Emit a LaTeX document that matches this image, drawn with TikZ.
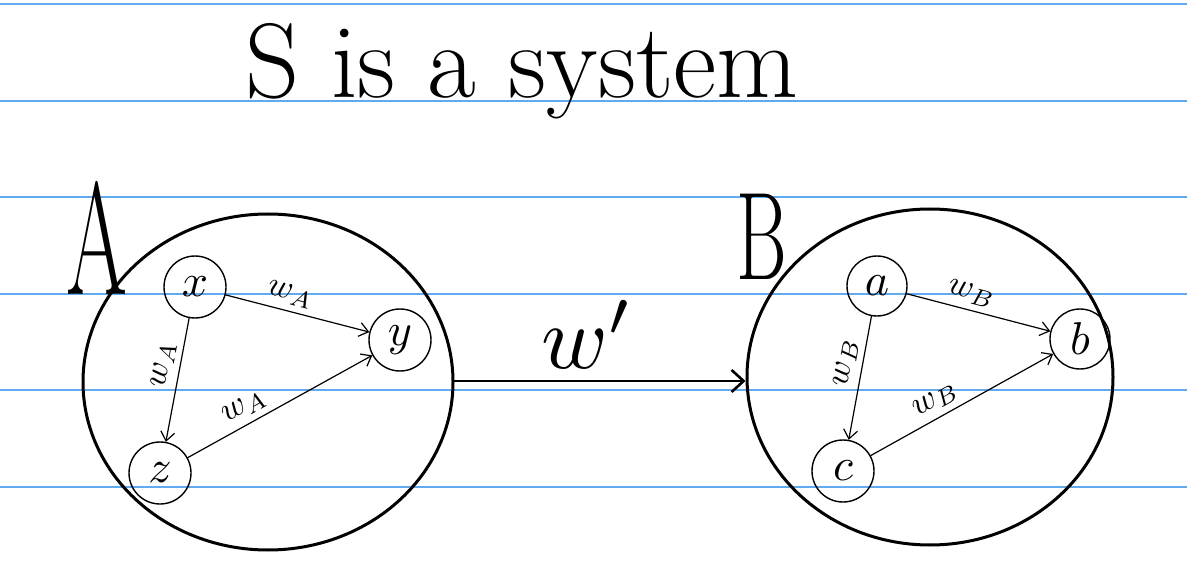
\documentclass[tikz,border=0pt]{standalone}
\usetikzlibrary{shapes.geometric,arrows.meta}
\definecolor{ruled}{RGB}{95,170,240}
\newcommand{\vlet}[1]{\scalebox{4.6}{$#1$}}
\newcommand{\wsub}[1]{\scalebox{3.4}{$w_{#1}$}}
\begin{document}
\begin{tikzpicture}[x=1pt,y=-1pt,line cap=round,line join=round,
  ruleline/.style={ruled,line width=2pt},
  bigset/.style={ellipse,draw,line width=3pt,inner sep=0pt},
  vertex/.style={circle,draw,line width=1.4pt,minimum size=62pt,inner sep=0pt},
  wedge/.style={line width=1.2pt,-{Straight Barb[length=9pt,width=14pt,line width=1.2pt]}},
  wlabel/.style={inner sep=1pt,above=5pt},
  bigarrow/.style={line width=2.6pt,-{Straight Barb[length=12pt,width=22pt,line width=2.6pt]}}]
\useasboundingbox (0,0) rectangle (1187,580);
\fill[white] (0,0) rectangle (1187,580);
% ruled paper
\foreach \yy in {4.5,101,197.5,294,390,487}
  \draw[ruleline] (0,\yy) -- (1187,\yy);
% title
\node[anchor=base west,inner sep=0pt,font=\fontsize{106}{108}\selectfont] (title) at (245,98) {S is a system};
% big sets
\node[bigset,minimum width=370pt,minimum height=336pt] (A) at (268,382) {};
\node[bigset,minimum width=366pt,minimum height=336pt] (B) at (930,377) {};
\node[anchor=base,inner sep=0pt,font=\fontsize{160}{160}\selectfont] (Alab) at (97,295) {\scalebox{0.55}[1]{A}};
\node[anchor=base,inner sep=0pt,font=\fontsize{125}{125}\selectfont] (Blab) at (762,280) {\scalebox{0.62}[1]{B}};
% vertices A
\node[vertex] (x) at (195,287) {\vlet{x}};
\node[vertex] (y) at (400,340) {\vlet{y}};
\node[vertex] (z) at (160,473) {\vlet{z}};
% vertices B
\node[vertex,minimum size=60pt] (a) at (877,286) {\vlet{a}};
\node[vertex,minimum size=60pt] (b) at (1080,339) {\vlet{b}};
\node[vertex] (c) at (843,471) {\vlet{c}};
% edges A
\draw[wedge] (x) -- node[wlabel,sloped,pos=0.42] {\wsub{A}} (y);
\draw[wedge] (x) -- node[wlabel,sloped,pos=0.4] {\wsub{A}} (z);
\draw[wedge] (z) -- node[wlabel,sloped,pos=0.35] {\wsub{A}} (y);
% edges B
\draw[wedge] (a) -- node[wlabel,sloped,pos=0.42] {\wsub{B}} (b);
\draw[wedge] (a) -- node[wlabel,sloped,pos=0.4] {\wsub{B}} (c);
\draw[wedge] (c) -- node[wlabel,sloped,pos=0.4] {\wsub{B}} (b);
% morphism
\draw[bigarrow] (A.east |- 0,381) -- (B.west |- 0,381);
\node[anchor=base,inner sep=0pt] (wp) at (588,368) {\scalebox{9}{$w'$}};
\end{tikzpicture}
\end{document}
